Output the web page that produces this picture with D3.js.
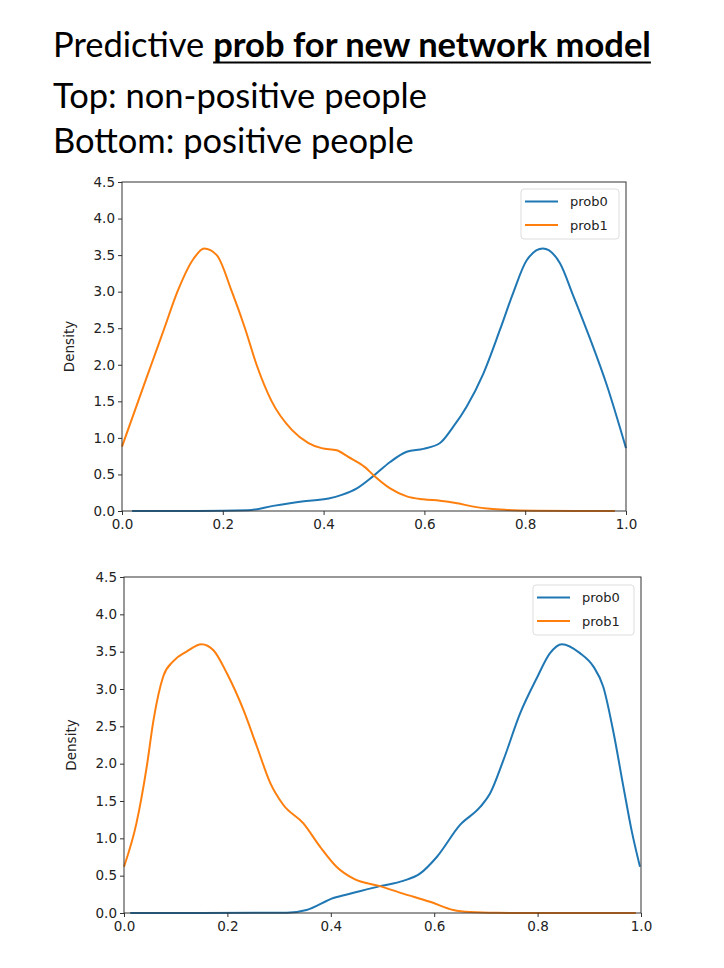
<!DOCTYPE html>
<html><head><meta charset="utf-8">
<script src="https://cdn.jsdelivr.net/npm/d3@7"></script>
<style>body{margin:0;background:#fff}svg{display:block}</style>
</head><body>
<svg id="c" width="724" height="968"></svg>
<script>
// ---- data ----
const xTicks = [0.0, 0.2, 0.4, 0.6, 0.8, 1.0];
const yTicks = [0.0, 0.5, 1.0, 1.5, 2.0, 2.5, 3.0, 3.5, 4.0, 4.5];
const seriesNames = ["prob0", "prob1"];
const seriesColors = ["#1f77b4", "#ff7f0e"];

const topProb0 = [[0.02,0.0],[0.15,0.0],[0.25,0.01],[0.30,0.07],[0.357,0.13],[0.41,0.17],[0.436,0.22],[0.466,0.31],[0.499,0.48],[0.532,0.67],[0.565,0.81],[0.598,0.85],[0.631,0.93],[0.657,1.15],[0.684,1.43],[0.717,1.88],[0.75,2.48],[0.776,2.98],[0.803,3.43],[0.835,3.59],[0.869,3.39],[0.895,2.95],[0.929,2.35],[0.962,1.72],[1.0,0.86]];
const topProb1 = [[0.0,0.88],[0.032,1.5],[0.058,2.0],[0.084,2.5],[0.11,3.0],[0.142,3.45],[0.163,3.59],[0.188,3.5],[0.218,3.0],[0.244,2.5],[0.267,2.0],[0.297,1.5],[0.337,1.11],[0.37,0.93],[0.396,0.86],[0.426,0.83],[0.449,0.74],[0.482,0.6],[0.499,0.49],[0.532,0.31],[0.565,0.2],[0.598,0.16],[0.631,0.14],[0.665,0.105],[0.697,0.06],[0.73,0.03],[0.763,0.015],[0.82,0.004],[0.9,0.0],[0.978,0.0]];
const botProb0 = [[0.012,0.0],[0.15,0.0],[0.315,0.005],[0.353,0.04],[0.405,0.2],[0.444,0.27],[0.495,0.36],[0.54,0.43],[0.573,0.53],[0.605,0.75],[0.65,1.18],[0.689,1.42],[0.708,1.6],[0.734,2.05],[0.766,2.67],[0.798,3.14],[0.824,3.48],[0.847,3.6],[0.882,3.48],[0.908,3.3],[0.927,3.03],[0.947,2.41],[0.966,1.69],[0.982,1.1],[0.998,0.62]];
const botProb1 = [[0.0,0.62],[0.024,1.2],[0.044,1.96],[0.057,2.58],[0.076,3.17],[0.095,3.37],[0.121,3.5],[0.15,3.6],[0.173,3.52],[0.199,3.21],[0.231,2.72],[0.257,2.23],[0.283,1.74],[0.308,1.45],[0.347,1.2],[0.379,0.89],[0.411,0.62],[0.444,0.46],[0.495,0.36],[0.54,0.26],[0.592,0.15],[0.637,0.04],[0.669,0.013],[0.72,0.002],[0.8,0.0],[0.99,0.0]];

const titleNormal = "Predictive ";
const titleBold = "prob for new network model";
const subLines = ["Top: non-positive people", "Bottom: positive people"];

// ---- drawing ----
const svg = d3.select("#c");
const tf = "Lato, 'Open Sans', sans-serif";
const tfs = 34.5;

const t1 = svg.append("text").attr("x",53).attr("y",57).attr("font-family",tf).attr("font-size",tfs).text(titleNormal).style("white-space","pre");
const w1 = t1.node().getComputedTextLength();
const t2 = svg.append("text").attr("x",53+w1).attr("y",57).attr("font-family",tf).attr("font-size",tfs).attr("font-weight","bold").text(titleBold);
const w2 = t2.node().getComputedTextLength();
svg.append("line").attr("x1",53+w1).attr("x2",53+w1+w2).attr("y1",62.5).attr("y2",62.5).attr("stroke","#000").attr("stroke-width",2);
subLines.forEach((s,i)=>{
  svg.append("text").attr("x",53).attr("y",108+i*45).attr("font-family",tf).attr("font-size",tfs).text(s);
});

const af = "'DejaVu Sans', sans-serif";
const afs = 13.5;
function panel(box, s0, s1, legBox){
  const x = d3.scaleLinear().domain([0,1]).range([box.l, box.r]);
  const y = d3.scaleLinear().domain([0,4.5]).range([box.b, box.t]);
  const g = svg.append("g");
  const line = d3.line().x(d=>x(d[0])).y(d=>y(d[1])).curve(d3.curveMonotoneX);
  [s0,s1].forEach((s,i)=>{
    g.append("path").attr("d",line(s)).attr("fill","none").attr("stroke",seriesColors[i]).attr("stroke-width",2);
  });
  const ax = g.append("g").attr("transform",`translate(0,${box.b})`).call(d3.axisBottom(x).tickValues(xTicks).tickFormat(d3.format(".1f")).tickSize(4).tickSizeOuter(0));
  const ay = g.append("g").attr("transform",`translate(${box.l},0)`).call(d3.axisLeft(y).tickValues(yTicks).tickFormat(d3.format(".1f")).tickSize(4).tickSizeOuter(0));
  [ax,ay].forEach(a=>{
    a.select(".domain").remove();
    a.selectAll("line").attr("stroke","#333");
    a.selectAll("text").attr("font-family",af).attr("font-size",afs).attr("fill","#222");
  });
  ax.selectAll("text").attr("dy","0.85em");
  g.append("rect").attr("x",box.l).attr("y",box.t).attr("width",box.r-box.l).attr("height",box.b-box.t).attr("fill","none").attr("stroke","#333").attr("stroke-width",1);
  g.append("text").attr("transform",`translate(${box.l-48},${(box.t+box.b)/2}) rotate(-90)`).attr("text-anchor","middle")
    .attr("font-family",af).attr("font-size",afs).attr("fill","#222").text("Density");
  // legend
  g.append("rect").attr("x",legBox.x).attr("y",legBox.y).attr("width",legBox.w).attr("height",legBox.h).attr("rx",3)
    .attr("fill","#fff").attr("fill-opacity",0.8).attr("stroke","#ddd");
  seriesNames.forEach((n,i)=>{
    const ly = legBox.y + 12.5 + i*23.5;
    g.append("line").attr("x1",legBox.x+4).attr("x2",legBox.x+37).attr("y1",ly).attr("y2",ly).attr("stroke",seriesColors[i]).attr("stroke-width",2);
    g.append("text").attr("x",legBox.x+49).attr("y",ly+4.5).attr("font-family",af).attr("font-size",13).attr("fill","#222").text(n);
  });
}
panel({l:122,r:626,t:182,b:511}, topProb0, topProb1, {x:521,y:189,w:98,h:50});
panel({l:124,r:641,t:577,b:913}, botProb0, botProb1, {x:533,y:585,w:101,h:50});
</script>
</body></html>
